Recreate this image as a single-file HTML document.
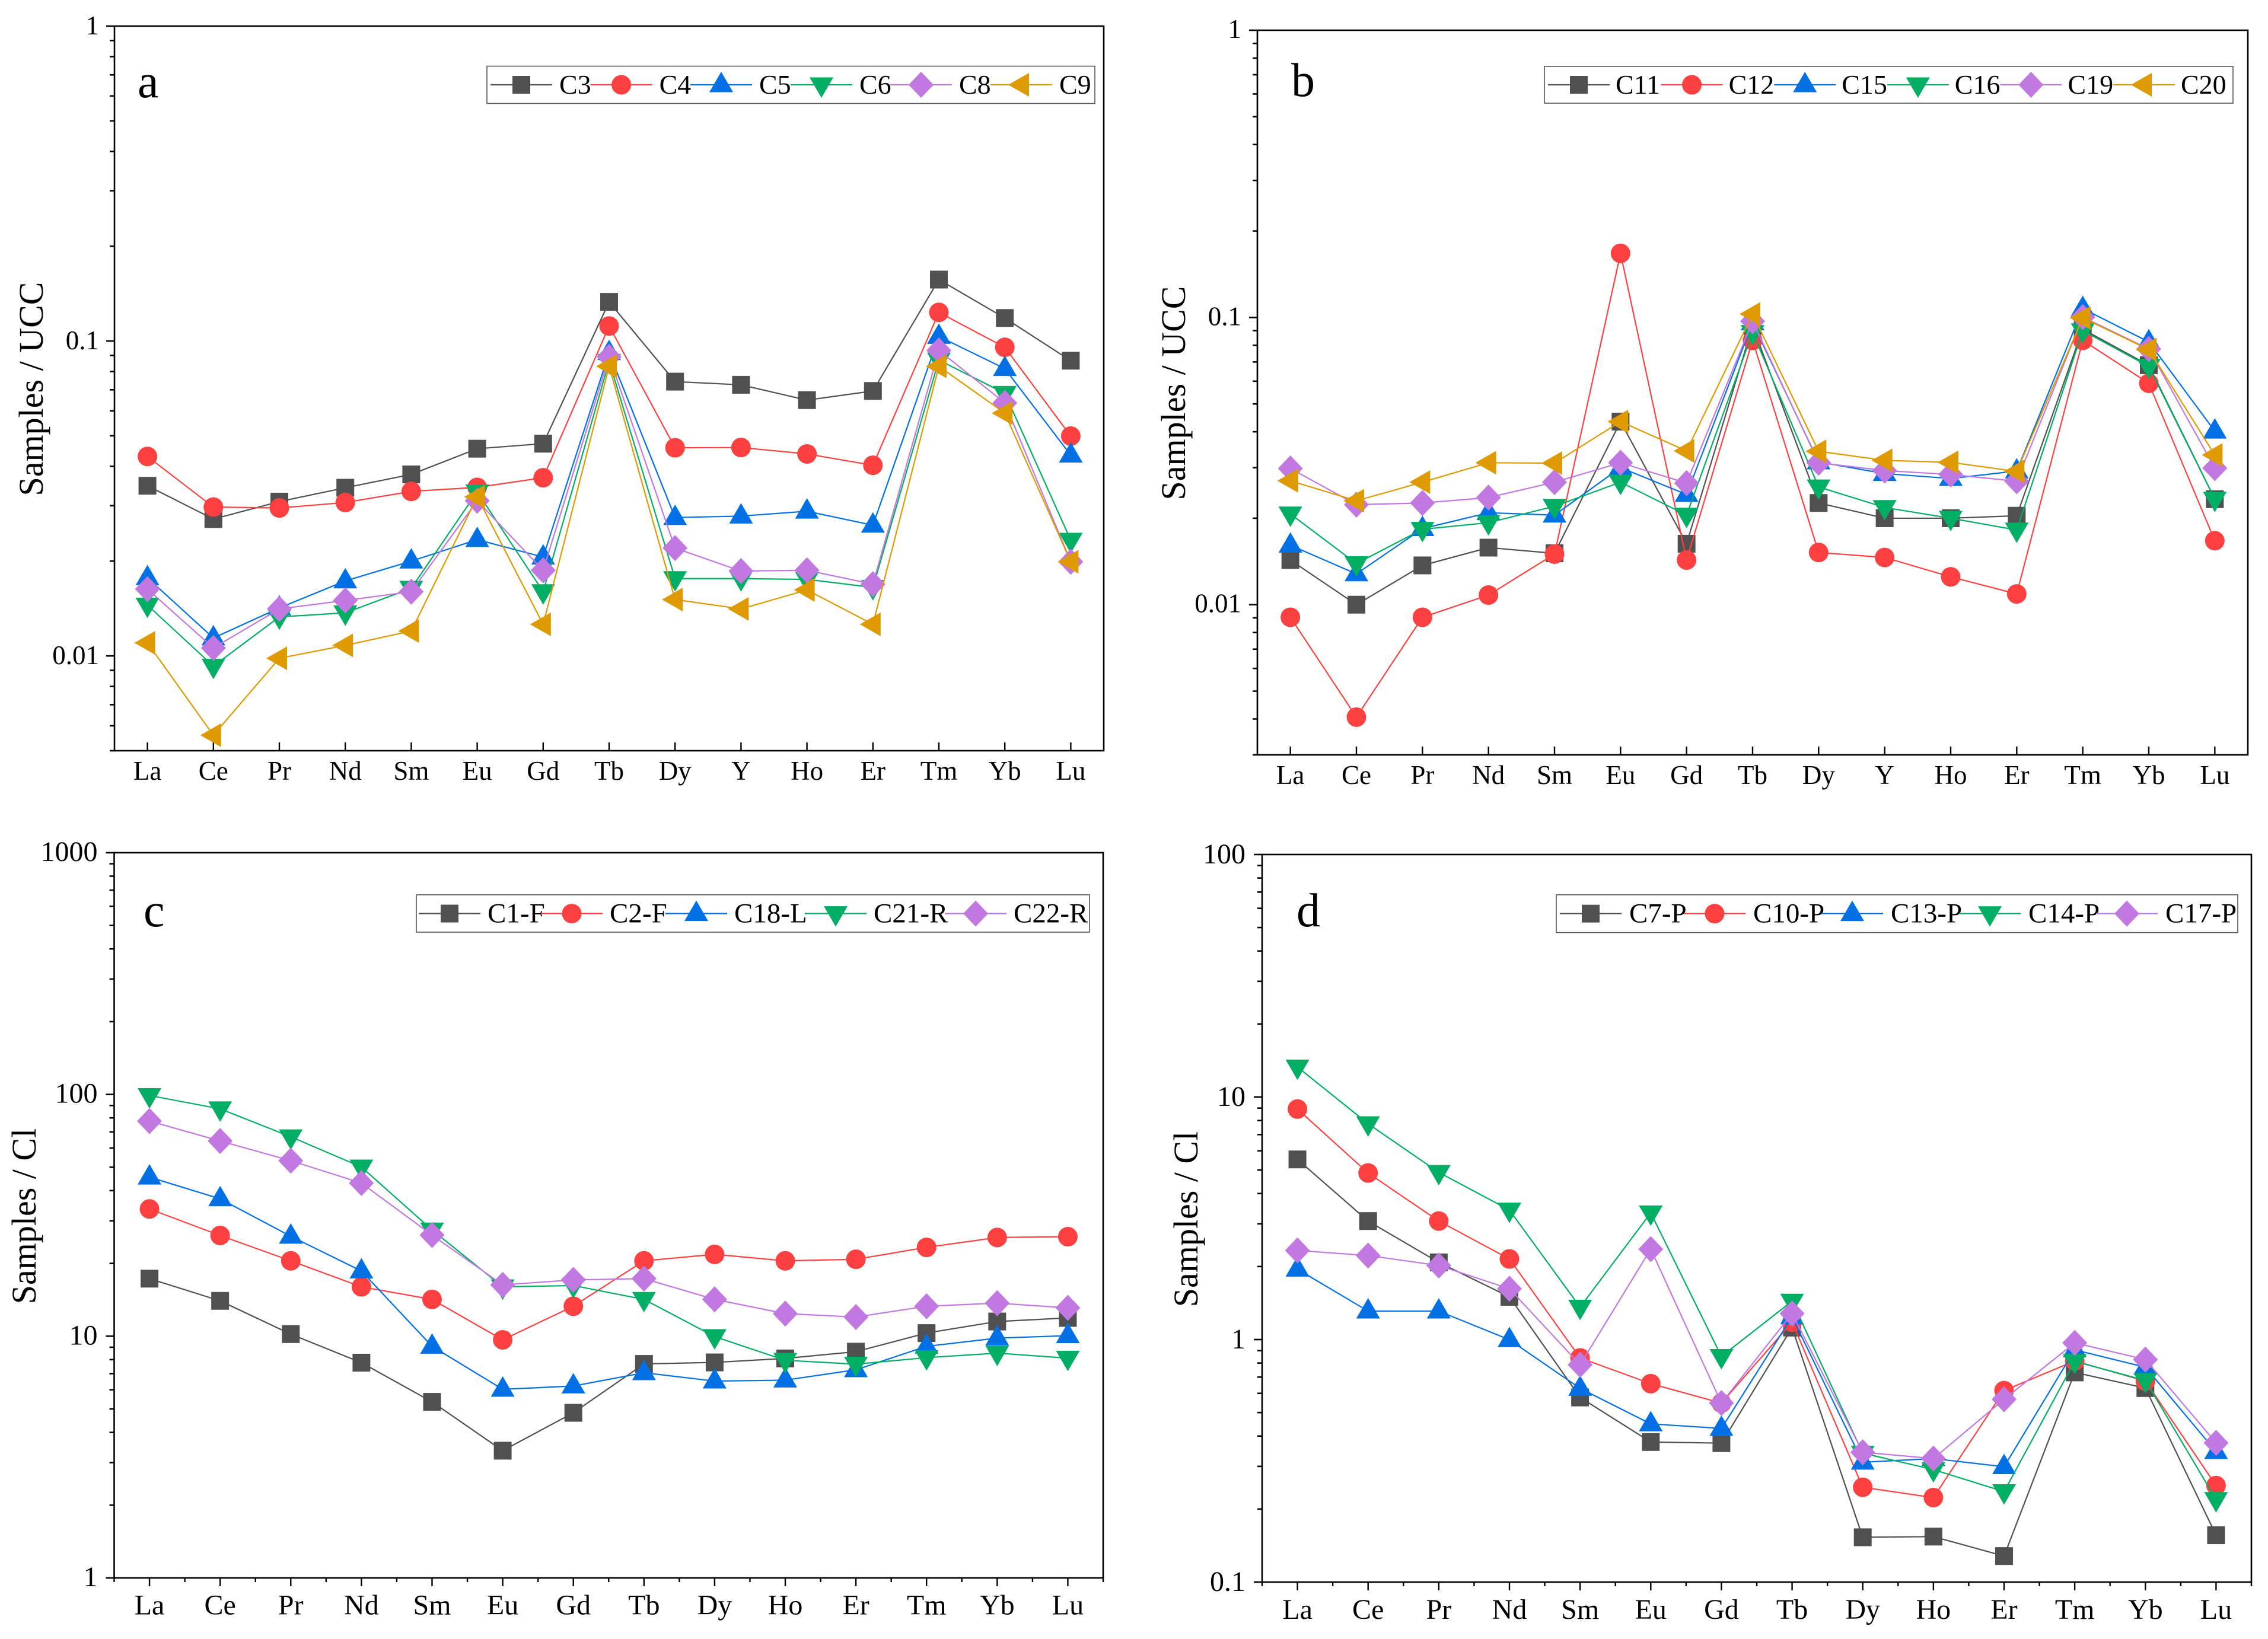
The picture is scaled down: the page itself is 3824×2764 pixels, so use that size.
<!DOCTYPE html>
<html lang="en">
<head>
<meta charset="utf-8">
<title>REE patterns: Samples / UCC and Samples / Cl</title>
<style>
html,body{margin:0;padding:0;background:#fff;width:3824px;height:2764px;overflow:hidden}
svg{display:block}
text{font-family:"Liberation Serif","Times New Roman",serif;fill:#000}
</style>
</head>
<body>
<svg id="figure" xmlns="http://www.w3.org/2000/svg" width="3824" height="2764" viewBox="0 0 3824 2764">
  <rect x="0" y="0" width="3824" height="2764" fill="#fff"/>
  <g id="panel-a">
    <text x="232" y="164" font-size="80">a</text>
    <text transform="translate(72,656) rotate(-90)" text-anchor="middle" font-size="58">Samples / UCC</text>
  </g>
  <g id="panel-b">
    <text x="2177" y="162" font-size="80">b</text>
    <text transform="translate(1998,663) rotate(-90)" text-anchor="middle" font-size="58">Samples / UCC</text>
  </g>
  <g id="panel-c">
    <text x="242" y="1562" font-size="80">c</text>
    <text transform="translate(60,2051) rotate(-90)" text-anchor="middle" font-size="58">Samples / Cl</text>
  </g>
  <g id="panel-d">
    <text x="2186" y="1562" font-size="80">d</text>
    <text transform="translate(2019,2056) rotate(-90)" text-anchor="middle" font-size="58">Samples / Cl</text>
  </g>
</svg>
<script>
// ---------- categories ----------
const elementsAB = ['La','Ce','Pr','Nd','Sm','Eu','Gd','Tb','Dy','Y','Ho','Er','Tm','Yb','Lu'];
const elementsCD = ['La','Ce','Pr','Nd','Sm','Eu','Gd','Tb','Dy','Ho','Er','Tm','Yb','Lu'];

// ---------- y tick labels ----------
const yTicksAB = ['1','0.1','0.01'];
const yTicksC = ['1000','100','10','1'];
const yTicksD = ['100','10','1','0.1'];

// ---------- panel a values (Samples / UCC) ----------
const seriesNamesA = ['C3','C4','C5','C6','C8','C9'];
const c3 = [0.0347,0.0272,0.0309,0.0342,0.0377,0.0455,0.0472,0.1331,0.0743,0.0726,0.0649,0.0694,0.1567,0.1183,0.0866];
const c4 = [0.0430,0.0297,0.0295,0.0307,0.0333,0.0343,0.0368,0.1116,0.0458,0.0459,0.0438,0.0403,0.1233,0.0955,0.0499];
const c5 = [0.0177,0.0114,0.0142,0.0173,0.0200,0.0234,0.0206,0.0918,0.0275,0.0278,0.0288,0.0260,0.1034,0.0817,0.0434];
const c6 = [0.0145,0.00928,0.0133,0.0137,0.0164,0.0332,0.0160,0.0862,0.0176,0.0176,0.0175,0.0165,0.0870,0.0682,0.0233];
const c8 = [0.0163,0.0106,0.0141,0.0150,0.0160,0.0311,0.0187,0.0891,0.0220,0.0186,0.0187,0.0169,0.0933,0.0636,0.0199];
const c9 = [0.0110,0.0056,0.00983,0.0108,0.0120,0.0320,0.0126,0.0831,0.0151,0.0141,0.0162,0.0126,0.0831,0.0590,0.0199];

// ---------- panel b values (Samples / UCC) ----------
const seriesNamesB = ['C11','C12','C15','C16','C19','C20'];
const c11 = [0.0143,0.0100,0.0137,0.0158,0.0151,0.0434,0.0163,0.0934,0.0226,0.0200,0.0200,0.0204,0.0910,0.0682,0.0233];
const c12 = [0.00904,0.00406,0.00904,0.0108,0.0150,0.1672,0.0143,0.0832,0.0152,0.0146,0.0125,0.0109,0.0832,0.0590,0.0167];
const c15 = [0.0161,0.0128,0.0184,0.0209,0.0205,0.0300,0.0242,0.0958,0.0314,0.0286,0.0275,0.0292,0.1074,0.0822,0.0402];
const c16 = [0.0207,0.0139,0.0183,0.0193,0.0220,0.0267,0.0205,0.0887,0.0257,0.0218,0.0200,0.0182,0.0899,0.0676,0.0233];
const c19 = [0.0298,0.0223,0.0226,0.0236,0.0267,0.0312,0.0265,0.0970,0.0312,0.0293,0.0284,0.0269,0.1003,0.0777,0.0299];
const c20 = [0.0270,0.0230,0.0267,0.0312,0.0311,0.0434,0.0343,0.1028,0.0342,0.0318,0.0313,0.0291,0.0997,0.0773,0.0332];

// ---------- panel c values (Samples / Cl) ----------
const seriesNamesC = ['C1-F','C2-F','C18-L','C21-R','C22-R'];
const c1F = [17.3,14.0,10.2,7.77,5.35,3.36,4.82,7.68,7.79,8.09,8.63,10.3,11.5,11.9];
const c2F = [33.6,26.1,20.5,16.0,14.2,9.66,13.3,20.5,21.8,20.5,20.8,23.3,25.6,25.8];
const c18L = [45.5,37.0,25.9,18.6,9.08,6.03,6.22,7.06,6.52,6.58,7.26,9.08,9.82,10.05];
const c21R = [99.0,87.2,66.8,50.1,27.5,16.0,16.2,14.2,9.96,7.95,7.66,8.15,8.51,8.11];
const c22R = [77.6,64.2,53.2,43.0,26.2,16.3,17.1,17.3,14.2,12.4,12.0,13.3,13.7,13.1];

// ---------- panel d values (Samples / Cl) ----------
const seriesNamesD = ['C7-P','C10-P','C13-P','C14-P','C17-P'];
const c7P = [5.53,3.08,2.08,1.50,0.577,0.378,0.374,1.12,0.153,0.154,0.128,0.732,0.631,0.156];
const c10P = [8.92,4.86,3.08,2.15,0.840,0.658,0.547,1.18,0.246,0.223,0.616,0.816,0.674,0.250];
const c13P = [1.95,1.31,1.31,0.998,0.629,0.449,0.430,1.24,0.312,0.323,0.299,0.907,0.769,0.345];
const c14P = [13.3,7.76,4.89,3.42,1.36,3.33,0.852,1.44,0.340,0.291,0.236,0.813,0.678,0.219];
const c17P = [2.33,2.22,2.02,1.62,0.787,2.36,0.547,1.28,0.343,0.323,0.567,0.969,0.827,0.375];

// ---------- styling ----------
const palette = ['#505050','#ff4040','#0070e4','#00ae64','#c178e0','#df9a00'];
const shapes = ['square','circle','up','down','diamond','left'];
const SVGNS = 'http://www.w3.org/2000/svg';

const panels = [
  {id:'a', left:193, right:1861, top:44, bottom:1266, yMax:1, yMin:0.005, cats:elementsAB, yLabels:yTicksAB,
   names:seriesNamesA, series:[c3,c4,c5,c6,c8,c9], font:45, legendFont:46, xInside:true, xBase:1315, yLabelGap:26, yLabelDrop:14,
   box:[821,111.6,1846,174.5], legendY:143, legendMarks:[879,1047.6,1216,1385,1553,1722], legendTextGap:64},
  {id:'b', left:2120, right:3790, top:51, bottom:1273, yMax:1, yMin:0.003, cats:elementsAB, yLabels:yTicksAB,
   names:seriesNamesB, series:[c11,c12,c15,c16,c19,c20], font:45, legendFont:46, xInside:true, xBase:1322, yLabelGap:27, yLabelDrop:13,
   box:[2604,112,3765,174], legendY:143, legendMarks:[2662,2852.6,3043.2,3233.8,3424.4,3615], legendTextGap:62},
  {id:'c', left:192.5, right:1860, top:1438, bottom:2661, yMax:1000, yMin:1, cats:elementsCD, yLabels:yTicksC,
   names:seriesNamesC, series:[c1F,c2F,c18L,c21R,c22R], font:48, legendFont:47, xInside:false, xBase:2722.7, yLabelGap:28, yLabelDrop:14,
   box:[702,1509,1837,1572], legendY:1540.6, legendMarks:[758,964,1174,1409,1645], legendTextGap:64},
  {id:'d', left:2128, right:3796, top:1441, bottom:2668, yMax:100, yMin:0.1, cats:elementsCD, yLabels:yTicksD,
   names:seriesNamesD, series:[c7P,c10P,c13P,c14P,c17P], font:48, legendFont:47, xInside:false, xBase:2730, yLabelGap:28, yLabelDrop:15,
   box:[2624,1509,3773,1572.7], legendY:1540.7, legendMarks:[2682,2891,3123,3355,3586], legendTextGap:65}
];

function node(tag, parent){
  const el = document.createElementNS(SVGNS, tag);
  parent.appendChild(el);
  return el;
}
function setLine(el, x1, y1, x2, y2, color, width){
  el.setAttribute('x1', x1);
  el.setAttribute('y1', y1);
  el.setAttribute('x2', x2);
  el.setAttribute('y2', y2);
  el.setAttribute('stroke', color);
  el.setAttribute('stroke-width', width);
}
function markerShape(shape, cx, cy, color, parent){
  let el;
  if (shape === 'circle'){
    el = node('circle', parent);
    el.setAttribute('cx', cx);
    el.setAttribute('cy', cy);
    el.setAttribute('r', 16.5);
  } else if (shape === 'square'){
    el = node('rect', parent);
    el.setAttribute('x', cx - 15);
    el.setAttribute('y', cy - 15);
    el.setAttribute('width', 30);
    el.setAttribute('height', 30);
  } else {
    el = node('polygon', parent);
    let pts = '';
    if (shape === 'up') pts = [[0,-22],[20,12.5],[-20,12.5]].map(p => (cx+p[0])+','+(cy+p[1])).join(' ');
    if (shape === 'down') pts = [[0,22],[20,-12.5],[-20,-12.5]].map(p => (cx+p[0])+','+(cy+p[1])).join(' ');
    if (shape === 'diamond') pts = [[0,-22],[21,0],[0,22],[-21,0]].map(p => (cx+p[0])+','+(cy+p[1])).join(' ');
    if (shape === 'left') pts = [[-22,0],[13,-20],[13,20]].map(p => (cx+p[0])+','+(cy+p[1])).join(' ');
    el.setAttribute('points', pts);
  }
  el.setAttribute('fill', color);
  return el;
}

function drawPanel(p){
  const root = document.getElementById('panel-' + p.id);
  const step = (p.right - p.left) / p.cats.length;
  const xScale = i => p.left + (i + 0.5) * step;
  const yScale = v => p.top + (Math.log10(p.yMax) - Math.log10(v)) / (Math.log10(p.yMax) - Math.log10(p.yMin)) * (p.bottom - p.top);

  // frame
  const frame = node('rect', root);
  
  
  frame.setAttribute('x', p.left);
  frame.setAttribute('y', p.top);
  frame.setAttribute('width', p.right - p.left);
  frame.setAttribute('height', p.bottom - p.top);
  frame.setAttribute('fill', 'none');
  frame.setAttribute('stroke', '#000');
  frame.setAttribute('stroke-width', 2.6);

  // y axis ticks: major with labels, minor 2..9 per decade
  const yAxis = node('g', root);
  
  
  const hiExp = Math.round(Math.log10(p.yMax));
  const loExp = Math.floor(Math.log10(p.yMin) + 1e-9);
  for (let e = loExp; e < hiExp; e++){
    for (let m = 2; m <= 9; m++){
      const v = m * Math.pow(10, e);
      if (v < p.yMin * 0.999 || v > p.yMax) continue;
      const t = node('line', yAxis);
      
      
      setLine(t, p.left - 8, yScale(v), p.left, yScale(v), '#000', 2.6);
    }
  }
  p.yLabels.forEach(label => {
    const v = parseFloat(label);
    const t = node('line', yAxis);
    
    
    setLine(t, p.left - 14, yScale(v), p.left, yScale(v), '#000', 2.6);
    const txt = node('text', yAxis);
    
    
    txt.setAttribute('x', p.left - p.yLabelGap);
    txt.setAttribute('y', yScale(v) + p.yLabelDrop);
    txt.setAttribute('text-anchor', 'end');
    txt.setAttribute('font-size', p.font);
    txt.textContent = label;
  });

  // x axis ticks and labels
  const xAxis = node('g', root);
  
  
  p.cats.forEach((cat, i) => {
    const x = xScale(i);
    const t = node('line', xAxis);
    
    
    if (p.xInside) setLine(t, x, p.bottom - 14, x, p.bottom, '#000', 2.4);
    else setLine(t, x, p.bottom, x, p.bottom + 14, '#000', 2.4);
    const txt = node('text', xAxis);
    
    
    txt.setAttribute('x', x);
    txt.setAttribute('y', p.xBase);
    txt.setAttribute('text-anchor', 'middle');
    txt.setAttribute('font-size', p.font);
    txt.textContent = cat;
  });
  if (!p.xInside){
    for (let i = 0; i <= p.cats.length; i++){
      const x = p.left + i * step;
      const t = node('line', xAxis);
      
      
      setLine(t, x, p.bottom, x, p.bottom + 7, '#000', 2.4);
    }
  }

  // series
  p.series.forEach((values, s) => {
    const g = node('g', root);
    
    
    const line = node('polyline', g);
    
    
    line.setAttribute('points', values.map((v, i) => xScale(i).toFixed(2) + ',' + yScale(v).toFixed(2)).join(' '));
    line.setAttribute('fill', 'none');
    line.setAttribute('stroke', palette[s]);
    line.setAttribute('stroke-width', 2.2);
    values.forEach((v, i) => {
      const m = markerShape(shapes[s], xScale(i), yScale(v), palette[s], g);
      
      
    });
  });

  // legend
  const legend = node('g', root);
  
  
  const box = node('rect', legend);
  
  
  box.setAttribute('x', p.box[0]);
  box.setAttribute('y', p.box[1]);
  box.setAttribute('width', p.box[2] - p.box[0]);
  box.setAttribute('height', p.box[3] - p.box[1]);
  box.setAttribute('fill', '#fff');
  box.setAttribute('stroke', '#555');
  box.setAttribute('stroke-width', 1.6);
  p.names.forEach((name, s) => {
    const mx = p.legendMarks[s];
    const entry = node('g', legend);
    
    
    const l = node('line', entry);
    
    
    setLine(l, mx - 52, p.legendY, mx + 52, p.legendY, palette[s], 2.2);
    const m = markerShape(shapes[s], mx, p.legendY, palette[s], entry);
    
    
    const t = node('text', entry);
    
    
    t.setAttribute('x', mx + p.legendTextGap);
    t.setAttribute('y', p.legendY + 15);
    t.setAttribute('font-size', p.legendFont);
    t.textContent = name;
  });
}
panels.forEach(drawPanel);
</script>
</body>
</html>
